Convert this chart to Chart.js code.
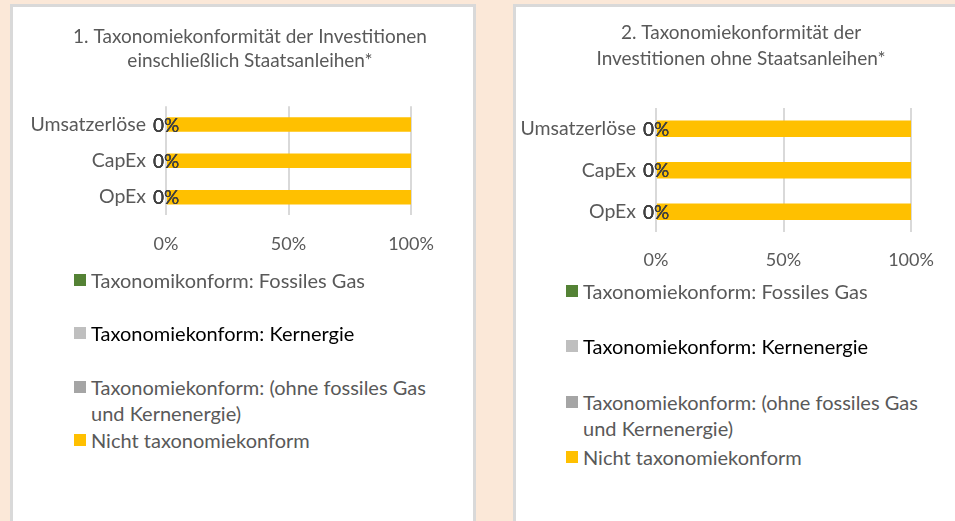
<!DOCTYPE html>
<html lang="de">
<head>
<meta charset="utf-8">
<script src="https://cdn.jsdelivr.net/npm/chart.js@4.4.1/dist/chart.umd.min.js"></script>
<style>
  html, body { margin: 0; padding: 0; }
  body {
    width: 955px; height: 521px; overflow: hidden; position: relative;
    background: #fbe8d8; font-family: Lato, "Open Sans", sans-serif;
  }
  .panel {
    position: absolute; top: 4px; height: 560px; background: #fff;
    border: 3px solid #d9d9d9; box-sizing: border-box;
  }
  .chart-box { position: absolute; }
  .legend { position: absolute; font-size: 20px; color: #595959; }
  .legend .item { position: absolute; left: 0; white-space: nowrap; line-height: 26px; }
  .legend .swatch {
    position: absolute; left: 0; top: 7px; width: 12px; height: 12px;
  }
  .legend .text { position: absolute; left: 17px; top: 0; }
</style>
</head>
<body>
<div class="panel" style="left:10px; width:466px;"></div>
<div class="panel" style="left:513px; width:460px;"></div>

<div class="chart-box" style="left:20px; top:0px; width:460px; height:273px;"><canvas id="chart-1"></canvas></div>
<div class="chart-box" style="left:510px; top:0px; width:462px; height:288px;"><canvas id="chart-2"></canvas></div>

<div class="legend" id="legend-1" style="left:74px; top:0px;"></div>
<div class="legend" id="legend-2" style="left:566px; top:0px;"></div>

<script>
// categories and series (share of investments in %)
const categories = ["Umsatzerlöse", "CapEx", "OpEx"];

const fossilGas = [0, 0, 0];
const nuclear = [0, 0, 0];
const otherAligned = [0, 0, 0];
const notAligned = [100, 100, 100];

const axisTicks = [0, 50, 100];

const titles1 = ["1. Taxonomiekonformität der Investitionen", "einschließlich Staatsanleihen*"];
const titles2 = ["2. Taxonomiekonformität der", "Investitionen ohne Staatsanleihen*"];

const seriesNames1 = ["Taxonomikonform: Fossiles Gas", "Taxonomiekonform: Kernergie",
  "Taxonomiekonform: (ohne fossiles Gas und Kernenergie)", "Nicht taxonomiekonform"];
const seriesNames2 = ["Taxonomiekonform: Fossiles Gas", "Taxonomiekonform: Kernenergie",
  "Taxonomiekonform: (ohne fossiles Gas und Kernenergie)", "Nicht taxonomiekonform"];

const colors = ["#548235", "#bfbfbf", "#a5a5a5", "#ffc000"];
const legendTextColors = ["#595959", "#000000", "#595959", "#595959"];

// "0%" labels on the aligned series, centred on each segment
const valueLabels = {
  id: "valueLabels",
  afterDatasetsDraw(chart) {
    const ctx = chart.ctx;
    ctx.save();
    ctx.font = "19px Lato";
    ctx.fillStyle = "#404040";
    ctx.textAlign = "center";
    ctx.textBaseline = "middle";
    chart.data.datasets.forEach((ds, i) => {
      if (!ds.showValue) return;
      chart.getDatasetMeta(i).data.forEach((bar, j) => {
        ctx.fillText(ds.data[j] + "%", (bar.base + bar.x) / 2, bar.y + 1);
      });
    });
    ctx.restore();
  }
};

function makeChart(id, titleLines, names, layout) {
  const values = [fossilGas, nuclear, otherAligned, notAligned];
  const datasets = values.map((v, i) => ({
    label: names[i],
    data: v,
    backgroundColor: colors[i],
    borderWidth: 0,
    showValue: i < 3,
    barPercentage: 0.4,
    categoryPercentage: 1
  }));

  return new Chart(document.getElementById(id), {
    type: "bar",
    data: { labels: categories, datasets: datasets },
    plugins: [valueLabels],
    options: {
      indexAxis: "y",
      animation: false,
      responsive: true,
      maintainAspectRatio: false,
      layout: { padding: { top: layout.top, right: 0, bottom: 0, left: 0 } },
      plugins: {
        legend: { display: false },
        tooltip: { enabled: false },
        title: {
          display: true,
          text: titleLines,
          color: "#595959",
          font: { family: "Lato", size: 19, weight: "normal", lineHeight: layout.titleLine },
          padding: { top: 0, bottom: layout.titleGap }
        }
      },
      scales: {
        x: {
          stacked: true,
          min: 0,
          max: 100,
          afterBuildTicks: axis => { axis.ticks = axisTicks.map(v => ({ value: v })); },
          grid: { color: "#d9d9d9", lineWidth: 2, drawTicks: false },
          border: { display: false },
          ticks: {
            color: "#595959",
            font: { family: "Lato", size: 18 },
            padding: layout.tickGap,
            callback: v => v + "%"
          }
        },
        y: {
          stacked: true,
          afterFit: axis => { axis.width = layout.yWidth; },
          grid: { display: false },
          border: { display: false },
          ticks: {
            color: "#595959",
            font: { family: "Lato", size: 19.5 },
            padding: 12
          }
        },
        // empty axis on the right keeps the plot narrower than the title box
        yRight: {
          axis: "y",
          position: "right",
          display: true,
          afterFit: axis => { axis.width = layout.rightGap; },
          grid: { display: false },
          border: { display: false },
          ticks: { display: false }
        }
      }
    }
  });
}

function buildLegend(el, chart, rows) {
  chart.data.datasets.forEach((ds, i) => {
    const item = document.createElement("div");
    item.className = "item";
    item.style.top = rows[i] + "px";
    const sw = document.createElement("span");
    sw.className = "swatch";
    sw.style.background = ds.backgroundColor;
    const tx = document.createElement("span");
    tx.className = "text";
    tx.style.color = legendTextColors[i];
    tx.innerHTML = ds.label.replace(" und ", "<br>und ");
    item.appendChild(sw);
    item.appendChild(tx);
    el.appendChild(item);
  });
}

const chart1 = makeChart("chart-1", titles1, seriesNames1,
  { top: 25, titleLine: 1.27, titleGap: 33, tickGap: 18, yWidth: 146, rightGap: 69 });
const chart2 = makeChart("chart-2", titles2, seriesNames2,
  { top: 20, titleLine: 1.37, titleGap: 36, tickGap: 17, yWidth: 146, rightGap: 61 });

buildLegend(document.getElementById("legend-1"), chart1, [267, 320, 374, 427]);
buildLegend(document.getElementById("legend-2"), chart2, [278, 333, 389, 444]);
</script>
</body>
</html>
